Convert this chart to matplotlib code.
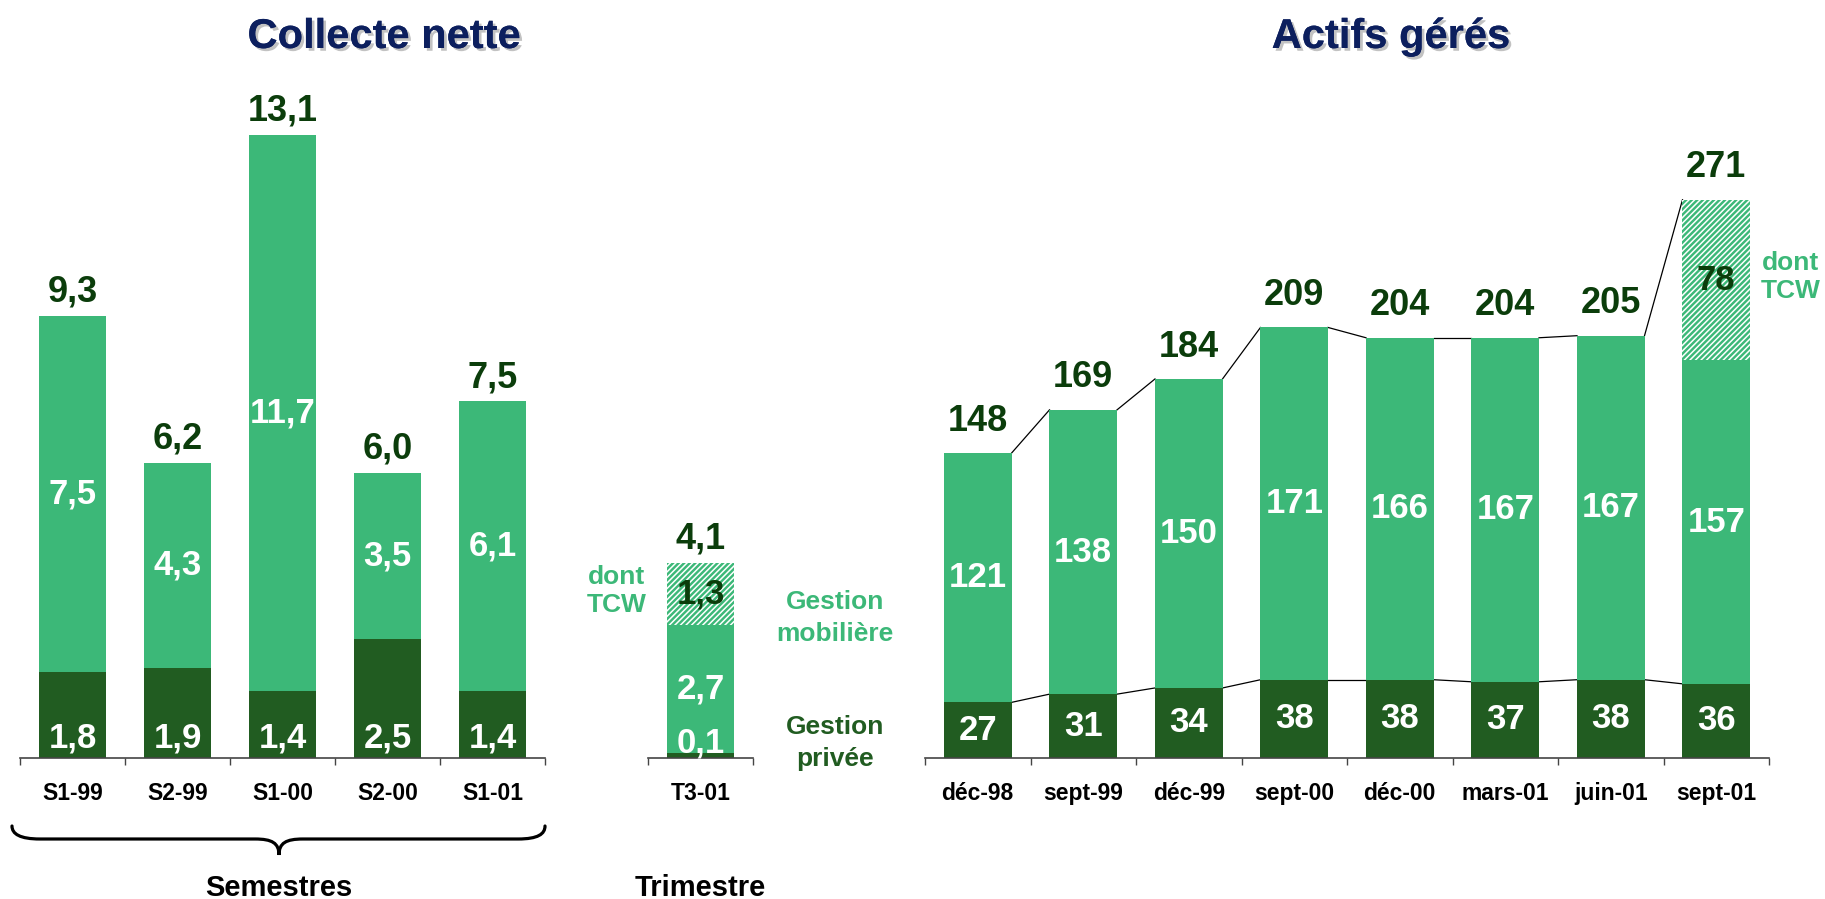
import matplotlib
matplotlib.use("Agg")
import matplotlib.pyplot as plt
import matplotlib.patheffects as pe
from matplotlib.path import Path
from matplotlib.patches import PathPatch
import numpy as np

plt.rcParams['font.family'] = ['Liberation Sans', 'DejaVu Sans']
plt.rcParams['font.weight'] = 'bold'
plt.rcParams['hatch.linewidth'] = 1.1

# ---------------- data ----------------
sem_labels = ['S1-99', 'S2-99', 'S1-00', 'S2-00', 'S1-01']
sem_privee = [1.8, 1.9, 1.4, 2.5, 1.4]
sem_mobiliere = [7.5, 4.3, 11.7, 3.5, 6.1]
sem_total = [9.3, 6.2, 13.1, 6.0, 7.5]

tri_labels = ['T3-01']
tri_privee = [0.1]
tri_mobiliere = [2.7]
tri_tcw = [1.3]
tri_total = [4.1]

act_labels = ['déc-98', 'sept-99', 'déc-99', 'sept-00', 'déc-00', 'mars-01', 'juin-01', 'sept-01']
act_privee = [27, 31, 34, 38, 38, 37, 38, 36]
act_mobiliere = [121, 138, 150, 171, 166, 167, 167, 157]
act_tcw = [0, 0, 0, 0, 0, 0, 0, 78]
act_total = [148, 169, 184, 209, 204, 204, 205, 271]

# ---------------- style ----------------
GREEN = '#3cb878'
DARK = '#215c21'
LBL = '#0b3d0b'
NAVY = '#0c1f5e'
W = 0.64

FW, FH = 1825, 899
fig = plt.figure(figsize=(FW / 100, FH / 100), dpi=100)

base_px = 758
def px_axes(x0, x1, top_px):
    return fig.add_axes([x0 / FW, (FH - base_px) / FH, (x1 - x0) / FW, (base_px - top_px) / FH])

ax1 = px_axes(20, 545, 92)
ax2 = px_axes(648, 753, 92)
ax3 = px_axes(925, 1769, 92)

def fmt(v):
    return f"{v:.1f}".replace('.', ',')

def style_axis(ax, labels, ytop):
    n = len(labels)
    ax.set_xlim(-0.5, n - 0.5)
    ax.set_ylim(0, ytop)
    for s in ['left', 'right', 'top']:
        ax.spines[s].set_visible(False)
    ax.spines['bottom'].set_color('#444444')
    ax.spines['bottom'].set_linewidth(1.2)
    ax.set_yticks([])
    ax.set_xticks(range(n))
    ax.set_xticklabels(labels, fontsize=16.5, fontweight='bold', color='black')
    ax.tick_params(axis='x', which='major', length=0, pad=17.5)
    ax.set_xticks(np.arange(-0.5, n, 1.0), minor=True)
    ax.tick_params(axis='x', which='minor', length=5, width=1, color='#444444', direction='out')
    ax.patch.set_alpha(0)

# ---------------- left: semesters ----------------
x = np.arange(len(sem_labels))
ax1.bar(x, sem_privee, width=W, color=DARK)
ax1.bar(x, sem_mobiliere, width=W, bottom=sem_privee, color=GREEN)
style_axis(ax1, sem_labels, 14.0)
for i in range(len(x)):
    ax1.text(i, 0.42, fmt(sem_privee[i]), ha='center', va='center', color='white', fontsize=25, fontweight='bold')
    ax1.text(i, sem_privee[i] + sem_mobiliere[i] / 2, fmt(sem_mobiliere[i]), ha='center', va='center',
             color='white', fontsize=25, fontweight='bold')
    ax1.annotate(fmt(sem_total[i]), (i, sem_total[i]), xytext=(0, 17), textcoords='offset points',
                 ha='center', va='center', color=LBL, fontsize=26, fontweight='bold')

# ---------------- middle: quarter ----------------
x2 = np.arange(len(tri_labels))
ax2.bar(x2, tri_privee, width=W, color=DARK)
ax2.bar(x2, tri_mobiliere, width=W, bottom=tri_privee, color=GREEN)
b2 = [p + m for p, m in zip(tri_privee, tri_mobiliere)]
ax2.bar(x2, tri_tcw, width=W, bottom=b2, color=GREEN, hatch='//////', edgecolor='white', linewidth=0)
style_axis(ax2, tri_labels, 14.0)
for i in range(len(x2)):
    ax2.text(i, 0.32, fmt(tri_privee[i]), ha='center', va='center', color='white', fontsize=25, fontweight='bold')
    ax2.text(i, tri_privee[i] + tri_mobiliere[i] / 2, fmt(tri_mobiliere[i]), ha='center', va='center',
             color='white', fontsize=25, fontweight='bold')
    ax2.text(i, b2[i] + tri_tcw[i] / 2, fmt(tri_tcw[i]), ha='center', va='center',
             color=LBL, fontsize=25, fontweight='bold')
    ax2.annotate(fmt(tri_total[i]), (i, tri_total[i]), xytext=(0, 17), textcoords='offset points',
                 ha='center', va='center', color=LBL, fontsize=26, fontweight='bold')

# ---------------- right: assets ----------------
x3 = np.arange(len(act_labels))
ax3.bar(x3, act_privee, width=W, color=DARK, zorder=2)
ax3.bar(x3, act_mobiliere, width=W, bottom=act_privee, color=GREEN, zorder=2)
b3 = [p + m for p, m in zip(act_privee, act_mobiliere)]
tcw_idx = [i for i, v in enumerate(act_tcw) if v > 0]
ax3.bar([x3[i] for i in tcw_idx], [act_tcw[i] for i in tcw_idx], width=W,
        bottom=[b3[i] for i in tcw_idx], color=GREEN, hatch='//////', edgecolor='white', linewidth=0, zorder=2)
style_axis(ax3, act_labels, 666.0 / 2.06)
for i in range(len(x3) - 1):
    ax3.plot([i + W / 2, i + 1 - W / 2], [act_total[i], act_total[i + 1]], color='black', lw=0.9, zorder=1)
    ax3.plot([i + W / 2, i + 1 - W / 2], [act_privee[i], act_privee[i + 1]], color='black', lw=0.9, zorder=1)
for i in range(len(x3)):
    ax3.text(i, act_privee[i] / 2, f"{act_privee[i]}", ha='center', va='center', color='white',
             fontsize=25, fontweight='bold', zorder=3)
    ax3.text(i, act_privee[i] + act_mobiliere[i] / 2, f"{act_mobiliere[i]}", ha='center', va='center',
             color='white', fontsize=25, fontweight='bold', zorder=3)
    if act_tcw[i] > 0:
        ax3.text(i, b3[i] + act_tcw[i] / 2, f"{act_tcw[i]}", ha='center', va='center', color=LBL,
                 fontsize=25, fontweight='bold', zorder=3)
    ax3.annotate(f"{act_total[i]}", (i, act_total[i]), xytext=(0, 23), textcoords='offset points',
                 ha='center', va='center', color=LBL, fontsize=26, fontweight='bold', zorder=3)

# ---------------- overlay (pixel coordinates) ----------------
ov = fig.add_axes([0, 0, 1, 1], zorder=10)
ov.set_xlim(0, FW)
ov.set_ylim(FH, 0)
ov.axis('off')
ov.patch.set_alpha(0)

shadow = [pe.withSimplePatchShadow(offset=(2, -2), shadow_rgbFace='#9a9a9a', alpha=0.6), pe.Normal()]
ov.text(384, 37, 'Collecte nette', ha='center', va='center', fontsize=30, fontweight='bold', color=NAVY,
        path_effects=shadow)
ov.text(1391, 37, 'Actifs gérés', ha='center', va='center', fontsize=30, fontweight='bold', color=NAVY,
        path_effects=shadow)

ov.text(617, 591, 'dont\nTCW', ha='center', va='center', fontsize=19, fontweight='bold', color=GREEN,
        linespacing=1.2)
ov.text(835, 618, 'Gestion\nmobilière', ha='center', va='center', fontsize=19, fontweight='bold', color=GREEN,
        linespacing=1.4)
ov.text(835, 743, 'Gestion\nprivée', ha='center', va='center', fontsize=19, fontweight='bold', color=DARK,
        linespacing=1.4)
ov.text(1791, 277, 'dont\nTCW', ha='center', va='center', fontsize=19, fontweight='bold', color=GREEN,
        linespacing=1.2)

ov.text(279, 888, 'Semestres', ha='center', va='center', fontsize=21, fontweight='bold', color='black')
ov.text(700, 888, 'Trimestre', ha='center', va='center', fontsize=21, fontweight='bold', color='black')

# brace under semesters
verts = [(12, 826), (12, 834), (20, 839), (40, 839),
         (255, 839),
         (272, 839), (279, 843), (279, 855),
         (279, 843), (286, 839), (303, 839),
         (518, 839),
         (538, 839), (545, 834), (545, 826)]
codes = [Path.MOVETO, Path.CURVE4, Path.CURVE4, Path.CURVE4,
         Path.LINETO,
         Path.CURVE4, Path.CURVE4, Path.CURVE4,
         Path.CURVE4, Path.CURVE4, Path.CURVE4,
         Path.LINETO,
         Path.CURVE4, Path.CURVE4, Path.CURVE4]
ov.add_patch(PathPatch(Path(verts, codes), facecolor='none', edgecolor='black', lw=2.3, capstyle='round'))

fig.savefig('out.png', dpi=100)
